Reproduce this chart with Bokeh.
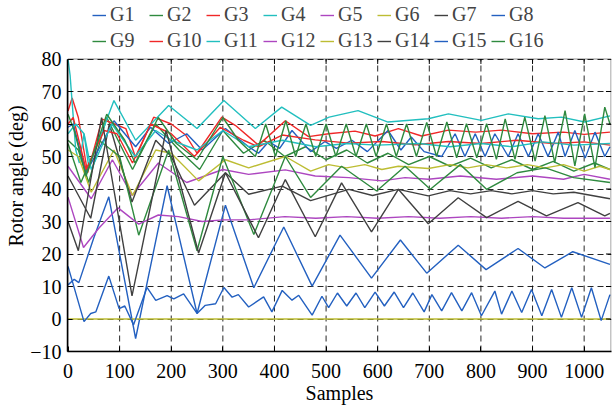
from bokeh.plotting import figure
from bokeh.models import Legend, LegendItem, FixedTicker, BoxAnnotation
from bokeh.embed import file_html
from bokeh.resources import INLINE

# ---------------- data ----------------
names = ["G1", "G2", "G3", "G4", "G5", "G6", "G7", "G8",
         "G9", "G10", "G11", "G12", "G13", "G14", "G15", "G16"]
x_ticks = [0, 100, 200, 300, 400, 500, 600, 700, 800, 900, 1000]
y_ticks = [-10, 0, 10, 20, 30, 40, 50, 60, 70, 80]
x_max = 1052

g1_x = [0, 12, 21, 50, 79, 131, 192, 250, 305, 360, 418, 473, 527, 588, 644, 695, 756, 810, 872, 924, 978, 1050]
g1_y = [10.5, 12.2, 11.2, 25, 37.6, -6, 41, 1.7, 35, 9.6, 28.3, 10.1, 25.8, 12.6, 24.3, 14.1, 22.7, 15.2, 21.7, 15.7, 20.7, 16.8]

g2_x = [0, 20, 40, 75, 125, 170, 215, 255, 300, 340, 380, 420, 460, 500, 540, 580, 620, 660, 700, 740, 780, 820, 860, 900, 940, 980, 1020, 1050]
g2_y = [55, 52, 42, 62, 46, 60, 52, 46, 58, 51, 55, 50, 53, 49, 52, 48, 51, 47.5, 50, 47, 49.5, 46.5, 49, 46, 48.5, 45.5, 48, 46]

g3_x = [0, 8, 20, 38, 66, 90, 112, 131, 166, 200, 228, 250, 298, 324, 369, 421, 466, 505, 556, 595, 640, 685, 737, 790, 840, 900, 960, 1000, 1050]
g3_y = [64, 68, 62, 45, 61.5, 60, 58.6, 49.6, 62.1, 60, 56.6, 51, 62.1, 59.6, 53.5, 61, 56.1, 57, 57.8, 56.3, 58.6, 56.3, 58.1, 57.5, 58.1, 57, 57.5, 56.8, 57.5]

g4_x = [0, 4, 15, 22, 31, 40, 60, 89, 131, 195, 250, 302, 363, 414, 470, 506, 562, 620, 698, 737, 801, 853, 911, 956, 1001, 1050]
g4_y = [80, 75, 52, 48, 57, 47, 55, 67.2, 55, 65.7, 58.6, 67.2, 58.6, 65.2, 59.6, 62.1, 64.1, 60.6, 61.6, 63.1, 61.1, 63.1, 61.6, 62.1, 60.6, 62.5]

g5_x = [0, 45, 86, 124, 175, 230, 300, 350, 421, 479, 544, 608, 653, 698, 760, 830, 900, 960, 1000, 1050]
g5_y = [47, 37, 49, 38, 48, 42, 46, 44.5, 45.9, 44, 43.5, 42.5, 43.5, 43, 44, 43, 44, 43, 44.5, 43]

g6_x = [0, 20, 45, 89, 125, 170, 200, 253, 305, 350, 421, 470, 505, 540, 575, 608, 640, 698, 740, 775, 810, 850, 890, 925, 960, 1000, 1030, 1050]
g6_y = [52, 50, 39, 52, 38, 52, 51, 42.5, 49, 46.5, 50, 45.5, 47.5, 46.5, 47.5, 46, 47, 46.3, 47.5, 46.5, 47.5, 46.5, 47.5, 46.5, 47.5, 45.5, 47, 46]

g7_x = [0, 44, 80, 124, 170, 200, 245, 305, 350, 415, 470, 544, 590, 640, 698, 740, 780, 820, 860, 900, 940, 980, 1050]
g7_y = [44, 31, 60, 36, 55, 50, 35, 45, 38.4, 40.9, 36.4, 39.9, 38, 39.9, 37.9, 39.5, 38.5, 39.5, 38.5, 39.5, 38.5, 39, 37]

g8_x = [0, 10, 35, 89, 131, 160, 195, 230, 260, 305, 350, 369, 389, 410, 434, 470, 498, 520, 550, 580, 620, 645, 665, 690, 724, 750, 769, 789, 808, 827, 853, 872, 892, 911, 930, 950, 963, 982, 1002, 1021, 1040, 1050]
g8_y = [59, 60, 45, 61, 53, 59, 54, 57, 52, 58.6, 53, 51, 54.6, 52.5, 58, 51.5, 54.6, 52.5, 55, 51.5, 58, 52, 56, 51.5, 50, 57, 50, 57, 50, 57, 50, 57, 50, 57, 50, 57.5, 50, 58, 49.5, 57.5, 50, 53]

g9_x = [0, 25, 60, 100, 137, 195, 250, 300, 360, 421, 470, 530, 598, 653, 702, 760, 811, 870, 925, 980, 1050]
g9_y = [54, 42, 55, 50, 25.8, 52, 21, 50, 26, 50, 37.4, 47, 39.4, 47, 39.9, 47.5, 39.9, 45, 46.5, 43.5, 42]

g10_x = [0, 10, 35, 70, 95, 125, 160, 200, 245, 295, 340, 369, 415, 479, 544, 608, 673, 737, 800, 870, 940, 1000, 1050]
g10_y = [60, 62, 46, 58, 57, 48, 60, 57, 50, 59, 55, 53, 56.6, 55.1, 54.1, 54.6, 53.6, 54.6, 54, 55, 54, 54.5, 53.5]

g11_x = [0, 15, 31, 45, 85, 130, 170, 200, 250, 300, 350, 415, 480, 540, 600, 680, 740, 800, 860, 920, 980, 1050]
g11_y = [57, 60, 57, 46, 60, 50, 58, 55, 52, 58, 53, 55, 53, 54, 53.5, 54, 53, 54, 53, 54.5, 53.5, 54]

g12_x = [0, 30, 60, 97, 137, 175, 214, 260, 300, 350, 420, 480, 540, 600, 660, 720, 780, 840, 900, 960, 1050]
g12_y = [37.5, 22, 28, 34.2, 29.2, 32, 31.5, 30, 30.5, 30.5, 31.5, 31, 31.5, 31, 31.5, 31, 31.5, 31, 31.5, 31, 31]

g13_x = [0, 1050]
g13_y = [0, 0]

g14_x = [0, 20, 65, 124, 190, 253, 305, 369, 421, 479, 530, 588, 640, 698, 756, 811, 872, 927, 988, 1040, 1050]
g14_y = [30, 21, 62, 7.1, 58, 20.3, 45, 25, 42.9, 25.3, 41.9, 26.8, 39.9, 29.3, 37.3, 31.2, 36.2, 31.7, 35.8, 31.7, 32.5]

g15_x = [0, 31, 44, 54, 79, 99, 110, 127, 153, 170, 192, 205, 224, 250, 266, 286, 302, 318, 330, 350, 379, 395, 415, 434, 447, 473, 492, 505, 522, 540, 558, 575, 595, 613, 632, 650, 668, 690, 705, 724, 743, 763, 782, 801, 827, 840, 860, 879, 898, 918, 937, 956, 976, 995, 1014, 1033, 1050]
g15_y = [16.2, -0.8, 1.7, 2.2, 13.2, 3.2, 4, -1.8, 9.7, 5.7, 7.2, 6.2, 7.7, 1.7, 4.2, 4.7, 9.7, 6.7, 7.5, 3.7, 6.8, 2.2, 8.8, 5.8, 7.3, 1.2, 7, 3.5, 8, 4, 8, 3.5, 8.3, 4, 8.3, 3.5, 8, 2.2, 7.5, 2.5, 8.1, 2.5, 8.1, 1.0, 8.6, 1.5, 8.6, 2.0, 9.1, 1.0, 9.1, 0.5, 9.6, 0.5, 9.6, -0.5, 7.5]

g16_x = [0, 12, 35, 75, 110, 130, 175, 210, 250, 300, 330, 363, 383, 402, 422, 441, 461, 480, 500, 519, 539, 558, 578, 597, 617, 636, 656, 675, 695, 714, 734, 753, 772, 792, 811, 830, 847, 866, 885, 905, 924, 943, 963, 982, 1001, 1021, 1040, 1050]
g16_y = [63, 58, 44, 63, 55, 48, 62, 54, 49, 62, 55, 50, 60, 50, 61, 50, 60, 50, 60, 50, 60, 50, 60, 50, 60, 50, 60, 50, 60.5, 50, 60.6, 49.6, 60.1, 49.6, 60.1, 49.1, 61.6, 49.1, 62.1, 48.6, 62.6, 48.1, 64.1, 47.1, 63.1, 46.6, 65.2, 60]

series_x = [g1_x, g2_x, g3_x, g4_x, g5_x, g6_x, g7_x, g8_x, g9_x, g10_x, g11_x, g12_x, g13_x, g14_x, g15_x, g16_x]
series_y = [g1_y, g2_y, g3_y, g4_y, g5_y, g6_y, g7_y, g8_y, g9_y, g10_y, g11_y, g12_y, g13_y, g14_y, g15_y, g16_y]

# ---------------- style ----------------
palette = ["#2360c0", "#2f8a3f", "#f02828", "#22bfbf", "#ad46c0", "#bdbd33", "#404040"]
FONT = "Liberation Serif"

W, H = 612, 406
BOTTOM = 52          # space for tick labels + "Samples"
TOP_PX = 59          # room above the 80 line for the legend
FRAME_H = H - BOTTOM
y_lo, y_hi = y_ticks[0], y_ticks[-1]
px_per_y = (FRAME_H - TOP_PX) / (y_hi - y_lo)
y_top = y_hi + TOP_PX / px_per_y

p = figure(width=W, height=H, x_range=(-1, x_max + 1), y_range=(y_lo, y_top),
           output_backend="svg", toolbar_location=None,
           min_border_left=67, min_border_right=1,
           min_border_top=0, min_border_bottom=BOTTOM)
p.background_fill_color = "white"
p.border_fill_color = "white"
p.outline_line_color = None

# dashed grid (vertical lines limited to the axes box)
p.xgrid.visible = False
p.ygrid.ticker = FixedTicker(ticks=y_ticks)
p.ygrid.grid_line_color = "black"
p.ygrid.grid_line_width = 1
p.ygrid.grid_line_dash = "6 4"
p.ygrid.grid_line_alpha = 0.85
vx = x_ticks[1:]
p.segment(x0=vx, y0=[y_lo] * len(vx), x1=vx, y1=[y_hi] * len(vx),
          line_color="black", line_width=1, line_dash="6 4", line_alpha=0.85)

renderers = []
for i, (xs, ys) in enumerate(zip(series_x, series_y)):
    renderers.append(p.line(xs, ys, line_color=palette[i % 7], line_width=1.4))

# axes box with inward ticks on the top and right edges
p.add_layout(BoxAnnotation(left=0, right=x_max, bottom=y_lo, top=y_hi,
                           fill_color=None, line_color="black", line_width=1.5))
tick_len_y = 5 / px_per_y
tick_len_x = 5 * (x_max + 2) / (W - 67 - 1)
p.segment(x0=vx, y0=[y_hi] * len(vx), x1=vx, y1=[y_hi - tick_len_y] * len(vx),
          line_color="black", line_width=1)
ry = y_ticks[1:-1]
p.segment(x0=[x_max] * len(ry), y0=ry, x1=[x_max - tick_len_x] * len(ry), y1=ry,
          line_color="black", line_width=1)

p.xaxis.ticker = FixedTicker(ticks=x_ticks)
p.yaxis.ticker = FixedTicker(ticks=y_ticks)
p.yaxis.bounds = (y_lo, y_hi)
for ax in (p.xaxis, p.yaxis):
    ax.axis_line_color = "black"
    ax.axis_line_width = 1.5
    ax.major_tick_in = 5
    ax.major_tick_out = 0
    ax.minor_tick_line_color = None
    ax.major_label_text_font = FONT
    ax.major_label_text_font_size = "20px"
    ax.major_label_text_color = "black"
    ax.axis_label_text_font = FONT
    ax.axis_label_text_font_size = "20px"
    ax.axis_label_text_font_style = "normal"
    ax.axis_label_text_color = "black"
p.xaxis.axis_label = "Samples"
p.yaxis.axis_label = "Rotor angle (deg)"
p.xaxis.major_label_standoff = 12
p.xaxis.axis_label_standoff = 1
p.yaxis.major_label_standoff = 6
p.yaxis.axis_label_standoff = 0

ROW, SP = 25, 3
leg_h = 2 * ROW + SP
items = [LegendItem(label=n, renderers=[r]) for n, r in zip(names, renderers)]
legend = Legend(items=items, orientation="horizontal", nrows=2,
                location=(25, FRAME_H - leg_h - 2), margin=0, padding=0, spacing=SP,
                glyph_width=14, glyph_height=20, label_height=20,
                label_standoff=4, label_width=36,
                label_text_font=FONT, label_text_font_size="20px",
                background_fill_alpha=0, border_line_color=None)
p.add_layout(legend, "center")

open("out.html", "w").write(file_html(p, INLINE))
